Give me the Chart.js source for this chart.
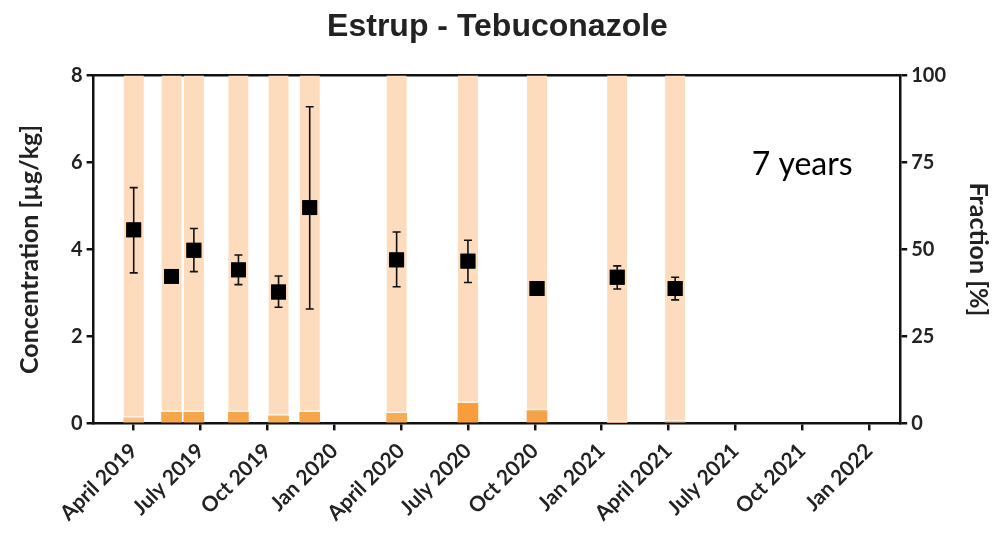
<!DOCTYPE html>
<html>
<head>
<meta charset="utf-8">
<script src="https://cdn.jsdelivr.net/npm/chart.js@4.4.0/dist/chart.umd.min.js"></script>
<style>
  body { margin: 0; background: #fff; }
  #wrap { width: 995px; height: 534px; position: relative; }
</style>
</head>
<body>
<div id="wrap"><canvas id="myChart"></canvas></div>
<script>
// x-axis: months counted from April 2019, one tick per quarter
const tickMonths = [0, 3, 6, 9, 12, 15, 18, 21, 24, 27, 30, 33];
const tickLabels = ['April 2019', 'July 2019', 'Oct 2019', 'Jan 2020', 'April 2020', 'July 2020',
                    'Oct 2020', 'Jan 2021', 'April 2021', 'July 2021', 'Oct 2021', 'Jan 2022'];

// sampling dates (months since April 2019)
const sampleMonths = [0, 1.7, 2.7, 4.7, 6.5, 7.9, 11.8, 15.0, 18.1, 21.7, 24.3];

// concentration [ug/kg], mean with error range
const concMean = [4.45, 3.38, 3.98, 3.53, 3.02, 4.96, 3.76, 3.73, 3.10, 3.36, 3.10];
const concHigh = [5.42, 3.42, 4.48, 3.87, 3.39, 7.28, 4.40, 4.21, 3.20, 3.62, 3.36];
const concLow  = [3.46, 3.34, 3.49, 3.19, 2.67, 2.63, 3.14, 3.24, 3.00, 3.09, 2.84];

// fraction [%] stacked bars
const fracLower = [1.6, 3.2, 3.2, 3.2, 2.2, 3.2, 2.9, 5.8, 3.7, 0.3, 0.5];
const fracUpper = [98.4, 96.8, 96.8, 96.8, 97.8, 96.8, 97.1, 94.2, 96.3, 99.7, 99.5];

const FONT = 'Lato';

function pairs(xs, ys) {
    return xs.map(function (x, i) { return { x: x, y: ys[i] }; });
}

// error bars + annotation
const extrasPlugin = {
    id: 'extras',
    afterDatasetsDraw: function (chart) {
        const ctx = chart.ctx;
        const xs = chart.scales.x;
        const ys = chart.scales.y;
        ctx.save();
        ctx.strokeStyle = '#111';
        ctx.lineWidth = 1.6;
        sampleMonths.forEach(function (m, i) {
            const px = xs.getPixelForValue(m);
            const hi = ys.getPixelForValue(concHigh[i]);
            const lo = ys.getPixelForValue(concLow[i]);
            ctx.beginPath();
            ctx.moveTo(px, hi); ctx.lineTo(px, lo);
            ctx.moveTo(px - 4, hi); ctx.lineTo(px + 4, hi);
            ctx.moveTo(px - 4, lo); ctx.lineTo(px + 4, lo);
            ctx.stroke();
        });
        ctx.restore();
        // redraw markers on top of error bars
        chart.getDatasetMeta(2).controller.draw();

        ctx.save();
        ctx.fillStyle = '#000';
        ctx.font = '32px ' + FONT;
        ctx.textAlign = 'center';
        ctx.textBaseline = 'middle';
        ctx.fillText('7 years', xs.getPixelForValue(30.0), ys.getPixelForValue(5.95));
        ctx.restore();
    }
};

const ctx = document.getElementById('myChart').getContext('2d');
window.myChart = new Chart(ctx, {
    type: 'bar',
    data: {
        datasets: [
            {
                label: 'lower',
                data: pairs(sampleMonths, fracLower),
                yAxisID: 'y2',
                backgroundColor: ['#f7c088', '#f7a54a', '#f7a54a', '#f7a54a', '#f6ad55', '#f7a54a',
                                  '#f6ad55', '#f89d3a', '#f7a246', '#f5b77a', '#f5b77a'],
                barThickness: 20,
                order: 2
            },
            {
                label: 'upper',
                data: pairs(sampleMonths, fracUpper),
                yAxisID: 'y2',
                backgroundColor: '#fddcbd',
                borderColor: '#fff6ea',
                borderWidth: { top: 0, left: 0, right: 0, bottom: 2 },
                borderSkipped: false,
                barThickness: 20,
                order: 2
            },
            {
                type: 'line',
                label: 'concentration',
                data: pairs(sampleMonths, concMean),
                yAxisID: 'y',
                showLine: false,
                pointStyle: 'rect',
                pointRadius: 10.5,
                pointBackgroundColor: '#000',
                pointBorderColor: '#000',
                pointBorderWidth: 0,
                order: 1
            }
        ]
    },
    options: {
        responsive: true,
        maintainAspectRatio: false,
        animation: false,
        layout: { padding: { left: 0, right: 0, top: 0, bottom: 0 } },
        plugins: {
            legend: { display: false },
            tooltip: { enabled: false },
            title: {
                display: true,
                text: 'Estrup - Tebuconazole',
                color: '#222',
                font: { family: 'Liberation Sans', size: 32, weight: 'bold' },
                padding: { top: 8, bottom: 21 }
            }
        },
        scales: {
            x: {
                type: 'linear',
                min: -1.8,
                max: 34.4,
                stacked: true,
                offset: false,
                afterBuildTicks: function (scale) {
                    scale.ticks = tickMonths.map(function (v) { return { value: v }; });
                },
                ticks: {
                    autoSkip: false,
                    minRotation: 45,
                    maxRotation: 45,
                    color: '#222',
                    font: { family: FONT, size: 21, weight: 'bold' },
                    padding: 8,
                    callback: function (value) {
                        const i = tickMonths.indexOf(value);
                        return i >= 0 ? tickLabels[i] : '';
                    }
                },
                grid: { offset: false, drawOnChartArea: false, color: '#111', lineWidth: 2.5, tickLength: 7 },
                border: { color: '#111', width: 2.5 }
            },
            xTop: {
                type: 'linear',
                position: 'top',
                min: -1.8,
                max: 34.4,
                ticks: { display: false },
                grid: { display: false },
                border: { color: '#111', width: 2.5 }
            },
            y: {
                position: 'left',
                min: 0,
                max: 8,
                ticks: {
                    stepSize: 2,
                    color: '#222',
                    font: { family: FONT, size: 20, weight: 'bold' },
                    padding: 4
                },
                grid: { drawOnChartArea: false, color: '#111', lineWidth: 2.5, tickLength: 7 },
                border: { color: '#111', width: 2.5 },
                title: {
                    display: true,
                    text: 'Concentration [µg/kg]',
                    color: '#222',
                    font: { family: FONT, size: 25, weight: 'bold' },
                    padding: { top: 15, bottom: 22 }
                }
            },
            y2: {
                position: 'right',
                min: 0,
                max: 100,
                stacked: true,
                ticks: {
                    stepSize: 25,
                    color: '#222',
                    font: { family: FONT, size: 20, weight: 'bold' },
                    padding: 4
                },
                grid: { drawOnChartArea: false, color: '#111', lineWidth: 2.5, tickLength: 7 },
                border: { color: '#111', width: 2.5 },
                title: {
                    display: true,
                    text: 'Fraction [%]',
                    color: '#222',
                    font: { family: FONT, size: 25, weight: 'bold' },
                    padding: { top: 2, bottom: 13 }
                }
            }
        }
    },
    plugins: [extrasPlugin]
});
</script>
</body>
</html>
